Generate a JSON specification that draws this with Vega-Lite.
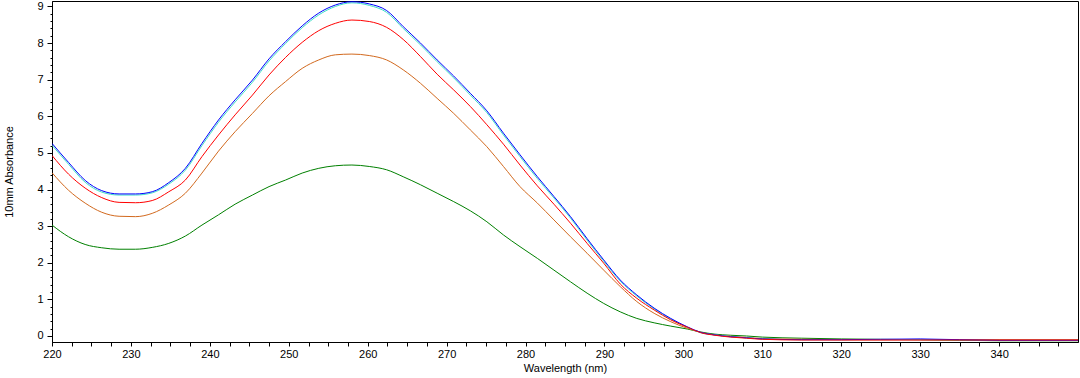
{
  "$schema": "https://vega.github.io/schema/vega-lite/v6.json",
  "width": 1026,
  "height": 341,
  "autosize": "none",
  "padding": {"left": 52, "top": 1, "right": 2, "bottom": 36},
  "background": "white",
  "config": {
    "view": {"stroke": "black", "strokeWidth": 1},
    "axis": {
      "domainColor": "black",
      "tickColor": "black",
      "labelColor": "black",
      "titleColor": "black",
      "labelFont": "Liberation Sans",
      "titleFont": "Liberation Sans",
      "labelFontSize": 11,
      "titleFontSize": 11,
      "titleFontWeight": "normal",
      "grid": false
    }
  },
  "datasets": {
    "green": [
      {"nm": 220, "abs": 3.03}, {"nm": 222.1, "abs": 2.71}, {"nm": 224.2, "abs": 2.50}, {"nm": 226.3, "abs": 2.41},
      {"nm": 228.5, "abs": 2.37}, {"nm": 230.6, "abs": 2.37}, {"nm": 232.7, "abs": 2.42}, {"nm": 234.8, "abs": 2.53},
      {"nm": 236.9, "abs": 2.73}, {"nm": 239.0, "abs": 3.03}, {"nm": 241.1, "abs": 3.31}, {"nm": 243.2, "abs": 3.60},
      {"nm": 245.4, "abs": 3.85}, {"nm": 247.5, "abs": 4.08}, {"nm": 249.6, "abs": 4.26}, {"nm": 251.7, "abs": 4.45},
      {"nm": 253.8, "abs": 4.58}, {"nm": 255.9, "abs": 4.65}, {"nm": 258.0, "abs": 4.67}, {"nm": 260.2, "abs": 4.63},
      {"nm": 262.4, "abs": 4.54}, {"nm": 264.5, "abs": 4.35}, {"nm": 266.7, "abs": 4.13}, {"nm": 268.8, "abs": 3.90},
      {"nm": 270.9, "abs": 3.67}, {"nm": 273.0, "abs": 3.42}, {"nm": 275.1, "abs": 3.12}, {"nm": 277.2, "abs": 2.76},
      {"nm": 279.3, "abs": 2.44}, {"nm": 281.5, "abs": 2.12}, {"nm": 283.6, "abs": 1.80}, {"nm": 285.7, "abs": 1.48},
      {"nm": 287.8, "abs": 1.17}, {"nm": 289.9, "abs": 0.89}, {"nm": 292.0, "abs": 0.66}, {"nm": 294.1, "abs": 0.48},
      {"nm": 296.3, "abs": 0.36}, {"nm": 298.4, "abs": 0.27}, {"nm": 300.5, "abs": 0.19}, {"nm": 302.2, "abs": 0.11},
      {"nm": 304, "abs": 0.05}, {"nm": 306, "abs": 0.02}, {"nm": 308, "abs": 0.0}, {"nm": 310, "abs": -0.03},
      {"nm": 315, "abs": -0.06}, {"nm": 320, "abs": -0.08}, {"nm": 330, "abs": -0.1}, {"nm": 340, "abs": -0.13},
      {"nm": 350, "abs": -0.13}
    ],
    "orange": [
      {"nm": 220, "abs": 4.46}, {"nm": 222.1, "abs": 3.98}, {"nm": 224.2, "abs": 3.63}, {"nm": 226.3, "abs": 3.38},
      {"nm": 228.5, "abs": 3.27}, {"nm": 230.6, "abs": 3.26}, {"nm": 232.7, "abs": 3.35}, {"nm": 234.8, "abs": 3.58},
      {"nm": 236.9, "abs": 3.90}, {"nm": 239.0, "abs": 4.45}, {"nm": 241.1, "abs": 5.05}, {"nm": 243.2, "abs": 5.58},
      {"nm": 245.4, "abs": 6.08}, {"nm": 247.5, "abs": 6.56}, {"nm": 249.6, "abs": 6.95}, {"nm": 251.7, "abs": 7.31},
      {"nm": 253.8, "abs": 7.54}, {"nm": 255.9, "abs": 7.68}, {"nm": 258.0, "abs": 7.70}, {"nm": 260.2, "abs": 7.66},
      {"nm": 262.4, "abs": 7.54}, {"nm": 264.5, "abs": 7.27}, {"nm": 266.7, "abs": 6.90}, {"nm": 268.8, "abs": 6.49},
      {"nm": 270.9, "abs": 6.08}, {"nm": 273.0, "abs": 5.63}, {"nm": 275.1, "abs": 5.17}, {"nm": 277.2, "abs": 4.63},
      {"nm": 279.3, "abs": 4.08}, {"nm": 281.5, "abs": 3.63}, {"nm": 283.6, "abs": 3.17}, {"nm": 285.7, "abs": 2.71},
      {"nm": 287.8, "abs": 2.26}, {"nm": 289.9, "abs": 1.80}, {"nm": 292.0, "abs": 1.35}, {"nm": 294.1, "abs": 0.94},
      {"nm": 296.3, "abs": 0.62}, {"nm": 298.4, "abs": 0.39}, {"nm": 300.5, "abs": 0.21}, {"nm": 302.2, "abs": 0.10},
      {"nm": 304, "abs": 0.03}, {"nm": 306, "abs": -0.01}, {"nm": 308, "abs": -0.04}, {"nm": 310, "abs": -0.07},
      {"nm": 315, "abs": -0.09}, {"nm": 320, "abs": -0.1}, {"nm": 330, "abs": -0.1}, {"nm": 340, "abs": -0.1},
      {"nm": 350, "abs": -0.1}
    ],
    "cyan": [
      {"nm": 220, "abs": 5.21}, {"nm": 222.1, "abs": 4.69}, {"nm": 224.2, "abs": 4.20}, {"nm": 226.3, "abs": 3.93},
      {"nm": 228.5, "abs": 3.85}, {"nm": 230.6, "abs": 3.85}, {"nm": 232.7, "abs": 3.91}, {"nm": 234.8, "abs": 4.15},
      {"nm": 236.9, "abs": 4.53}, {"nm": 239.0, "abs": 5.20}, {"nm": 241.1, "abs": 5.84}, {"nm": 243.2, "abs": 6.39},
      {"nm": 245.4, "abs": 6.93}, {"nm": 247.5, "abs": 7.51}, {"nm": 249.6, "abs": 7.99}, {"nm": 251.7, "abs": 8.42},
      {"nm": 253.8, "abs": 8.77}, {"nm": 255.9, "abs": 9.00}, {"nm": 258.0, "abs": 9.10}, {"nm": 260.2, "abs": 9.03},
      {"nm": 262.4, "abs": 8.84}, {"nm": 264.5, "abs": 8.40}, {"nm": 266.7, "abs": 7.95}, {"nm": 268.8, "abs": 7.49},
      {"nm": 270.9, "abs": 7.05}, {"nm": 273.0, "abs": 6.58}, {"nm": 275.1, "abs": 6.10}, {"nm": 277.2, "abs": 5.49},
      {"nm": 279.3, "abs": 4.90}, {"nm": 281.5, "abs": 4.30}, {"nm": 283.6, "abs": 3.77}, {"nm": 285.7, "abs": 3.22},
      {"nm": 287.8, "abs": 2.62}, {"nm": 289.9, "abs": 2.04}, {"nm": 292.0, "abs": 1.50}, {"nm": 294.1, "abs": 1.09},
      {"nm": 296.3, "abs": 0.74}, {"nm": 298.4, "abs": 0.46}, {"nm": 300.5, "abs": 0.24}, {"nm": 302.2, "abs": 0.09},
      {"nm": 304, "abs": 0.03}, {"nm": 306, "abs": -0.02}, {"nm": 308, "abs": -0.05}, {"nm": 310, "abs": -0.08},
      {"nm": 315, "abs": -0.1}, {"nm": 320, "abs": -0.1}, {"nm": 330, "abs": -0.1}, {"nm": 340, "abs": -0.12},
      {"nm": 350, "abs": -0.12}
    ],
    "blue": [
      {"nm": 220, "abs": 5.26}, {"nm": 222.1, "abs": 4.74}, {"nm": 224.2, "abs": 4.25}, {"nm": 226.3, "abs": 3.97},
      {"nm": 228.5, "abs": 3.88}, {"nm": 230.6, "abs": 3.88}, {"nm": 232.7, "abs": 3.94}, {"nm": 234.8, "abs": 4.19},
      {"nm": 236.9, "abs": 4.58}, {"nm": 239.0, "abs": 5.26}, {"nm": 241.1, "abs": 5.90}, {"nm": 243.2, "abs": 6.45},
      {"nm": 245.4, "abs": 6.99}, {"nm": 247.5, "abs": 7.57}, {"nm": 249.6, "abs": 8.04}, {"nm": 251.7, "abs": 8.47},
      {"nm": 253.8, "abs": 8.82}, {"nm": 255.9, "abs": 9.04}, {"nm": 258.0, "abs": 9.13}, {"nm": 260.2, "abs": 9.07},
      {"nm": 262.4, "abs": 8.89}, {"nm": 264.5, "abs": 8.45}, {"nm": 266.7, "abs": 8.00}, {"nm": 268.8, "abs": 7.54},
      {"nm": 270.9, "abs": 7.10}, {"nm": 273.0, "abs": 6.63}, {"nm": 275.1, "abs": 6.15}, {"nm": 277.2, "abs": 5.54},
      {"nm": 279.3, "abs": 4.95}, {"nm": 281.5, "abs": 4.35}, {"nm": 283.6, "abs": 3.81}, {"nm": 285.7, "abs": 3.26},
      {"nm": 287.8, "abs": 2.66}, {"nm": 289.9, "abs": 2.08}, {"nm": 292.0, "abs": 1.53}, {"nm": 294.1, "abs": 1.12},
      {"nm": 296.3, "abs": 0.76}, {"nm": 298.4, "abs": 0.48}, {"nm": 300.5, "abs": 0.25}, {"nm": 302.2, "abs": 0.10},
      {"nm": 304, "abs": 0.03}, {"nm": 306, "abs": -0.02}, {"nm": 308, "abs": -0.05}, {"nm": 310, "abs": -0.08},
      {"nm": 315, "abs": -0.1}, {"nm": 320, "abs": -0.1}, {"nm": 330, "abs": -0.08}, {"nm": 340, "abs": -0.12},
      {"nm": 350, "abs": -0.12}
    ],
    "red": [
      {"nm": 220, "abs": 4.93}, {"nm": 222.1, "abs": 4.42}, {"nm": 224.2, "abs": 4.04}, {"nm": 226.3, "abs": 3.78},
      {"nm": 228.5, "abs": 3.65}, {"nm": 230.6, "abs": 3.64}, {"nm": 232.7, "abs": 3.70}, {"nm": 234.8, "abs": 3.94},
      {"nm": 236.9, "abs": 4.26}, {"nm": 239.0, "abs": 4.90}, {"nm": 241.1, "abs": 5.49}, {"nm": 243.2, "abs": 6.04},
      {"nm": 245.4, "abs": 6.58}, {"nm": 247.5, "abs": 7.13}, {"nm": 249.6, "abs": 7.61}, {"nm": 251.7, "abs": 8.02},
      {"nm": 253.8, "abs": 8.34}, {"nm": 255.9, "abs": 8.54}, {"nm": 258.0, "abs": 8.63}, {"nm": 260.2, "abs": 8.59},
      {"nm": 262.4, "abs": 8.43}, {"nm": 264.5, "abs": 8.10}, {"nm": 266.7, "abs": 7.63}, {"nm": 268.8, "abs": 7.15},
      {"nm": 270.9, "abs": 6.72}, {"nm": 273.0, "abs": 6.27}, {"nm": 275.1, "abs": 5.77}, {"nm": 277.2, "abs": 5.24},
      {"nm": 279.3, "abs": 4.67}, {"nm": 281.5, "abs": 4.10}, {"nm": 283.6, "abs": 3.60}, {"nm": 285.7, "abs": 3.08},
      {"nm": 287.8, "abs": 2.53}, {"nm": 289.9, "abs": 1.99}, {"nm": 292.0, "abs": 1.42}, {"nm": 294.1, "abs": 1.03},
      {"nm": 296.3, "abs": 0.71}, {"nm": 298.4, "abs": 0.44}, {"nm": 300.5, "abs": 0.24}, {"nm": 302.2, "abs": 0.09},
      {"nm": 304, "abs": 0.02}, {"nm": 306, "abs": -0.03}, {"nm": 308, "abs": -0.06}, {"nm": 310, "abs": -0.09},
      {"nm": 315, "abs": -0.11}, {"nm": 320, "abs": -0.11}, {"nm": 330, "abs": -0.11}, {"nm": 340, "abs": -0.11},
      {"nm": 350, "abs": -0.11}
    ]
  },
  "encoding": {
    "x": {
      "field": "nm", "type": "quantitative",
      "scale": {"domain": [220, 350], "nice": false, "zero": false},
      "axis": {
        "title": "Wavelength (nm)",
        "values": [220,222.5,225,227.5,230,232.5,235,237.5,240,242.5,245,247.5,250,252.5,255,257.5,260,262.5,265,267.5,270,272.5,275,277.5,280,282.5,285,287.5,290,292.5,295,297.5,300,302.5,305,307.5,310,312.5,315,317.5,320,322.5,325,327.5,330,332.5,335,337.5,340,342.5,345,347.5],
        "labelExpr": "datum.value % 10 == 0 ? datum.label : ''",
        "tickSize": 4,
        "labelPadding": 2,
        "titlePadding": 3,
        "labelFlush": false,
        "labelOverlap": false
      }
    },
    "y": {
      "field": "abs", "type": "quantitative",
      "scale": {"domain": [-0.164, 9.15], "nice": false, "zero": false},
      "axis": {
        "title": "10mm Absorbance",
        "values": [0,0.2,0.4,0.6,0.8,1,1.2,1.4,1.6,1.8,2,2.2,2.4,2.6,2.8,3,3.2,3.4,3.6,3.8,4,4.2,4.4,4.6,4.8,5,5.2,5.4,5.6,5.8,6,6.2,6.4,6.6,6.8,7,7.2,7.4,7.6,7.8,8,8.2,8.4,8.6,8.8,9],
        "labelExpr": "abs(datum.value - round(datum.value)) < 0.01 ? format(round(datum.value), 'd') : ''",
        "tickSize": {"condition": {"test": "abs(datum.value - round(datum.value)) < 0.01", "value": 5}, "value": 2},
        "labelPadding": 4,
        "titlePadding": 22,
        "labelFlush": false,
        "labelOverlap": false
      }
    }
  },
  "layer": [
    {"data": {"name": "green"}, "mark": {"type": "line", "color": "#008000", "strokeWidth": 1, "clip": true, "interpolate": "monotone"}},
    {"data": {"name": "orange"}, "mark": {"type": "line", "color": "#D2691E", "strokeWidth": 1, "clip": true, "interpolate": "monotone"}},
    {"data": {"name": "cyan"}, "mark": {"type": "line", "color": "#40E0C8", "strokeWidth": 1, "clip": true, "interpolate": "monotone"}},
    {"data": {"name": "blue"}, "mark": {"type": "line", "color": "#0000FF", "strokeWidth": 1, "clip": true, "interpolate": "monotone"}},
    {"data": {"name": "red"}, "mark": {"type": "line", "color": "#FF0000", "strokeWidth": 1, "clip": true, "interpolate": "monotone"}}
  ]
}
